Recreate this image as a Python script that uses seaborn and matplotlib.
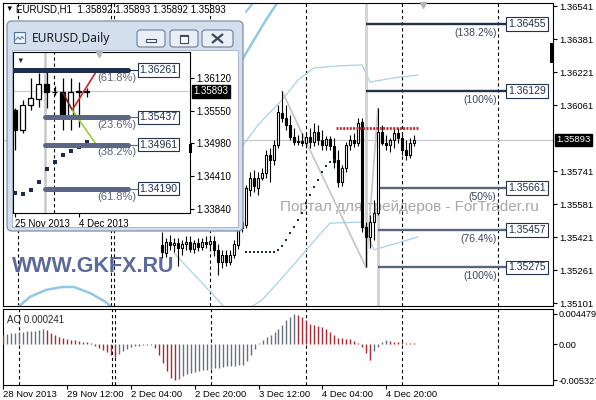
import numpy as np
import matplotlib
matplotlib.use("Agg")
import matplotlib.pyplot as plt
from matplotlib.patches import FancyBboxPatch, Rectangle
import seaborn as sns

# ---------------- data : main H1 chart ----------------
header_text = "EURUSD,H1  1.35892 1.35893 1.35892 1.35893"
last_price = 1.35893

h1_idx = list(range(40, 104))
h1_open = [1.35384, 1.35345, 1.35398, 1.35384, 1.35394, 1.35369, 1.35389, 1.35398, 1.35364, 1.35394,
           1.35374, 1.35398, 1.35389, 1.35403, 1.35360, 1.35301, 1.35335, 1.35301, 1.35335, 1.35384,
           1.35466, 1.35481, 1.35651, 1.35709, 1.35660, 1.35709, 1.35733, 1.35820, 1.35796, 1.35869,
           1.36024, 1.36000, 1.35966, 1.35908, 1.35883, 1.35888, 1.35878, 1.35908, 1.35883, 1.35932,
           1.35893, 1.35869, 1.35898, 1.35864, 1.35796, 1.35689, 1.35757, 1.35869, 1.35893, 1.35878,
           1.35980, 1.35471, 1.35423, 1.35495, 1.35539, 1.35932, 1.35878, 1.35869, 1.35893, 1.35927,
           1.35903, 1.35845, 1.35820, 1.35878]
h1_high = [1.35447, 1.35418, 1.35432, 1.35418, 1.35418, 1.35408, 1.35427, 1.35427, 1.35408, 1.35418,
           1.35418, 1.35427, 1.35418, 1.35427, 1.35389, 1.35360, 1.35360, 1.35360, 1.35408, 1.35481,
           1.35529, 1.35675, 1.35738, 1.35748, 1.35738, 1.35757, 1.35845, 1.35854, 1.35893, 1.36063,
           1.36129, 1.36063, 1.36014, 1.35951, 1.35917, 1.35927, 1.35932, 1.35951, 1.35975, 1.35966,
           1.35942, 1.35912, 1.35912, 1.35903, 1.35845, 1.35772, 1.35883, 1.35917, 1.35927, 1.36000,
           1.36000, 1.35495, 1.35529, 1.35602, 1.36047, 1.35966, 1.35917, 1.35903, 1.35951, 1.35951,
           1.35932, 1.35893, 1.35903, 1.35917]
h1_low = [1.35321, 1.35326, 1.35360, 1.35350, 1.35282, 1.35335, 1.35360, 1.35350, 1.35345, 1.35355,
          1.35360, 1.35369, 1.35360, 1.35331, 1.35238, 1.35272, 1.35282, 1.35287, 1.35321, 1.35364,
          1.35447, 1.35466, 1.35621, 1.35641, 1.35626, 1.35699, 1.35709, 1.35689, 1.35772, 1.35854,
          1.35980, 1.35942, 1.35893, 1.35869, 1.35869, 1.35864, 1.35854, 1.35854, 1.35864, 1.35869,
          1.35845, 1.35845, 1.35845, 1.35757, 1.35665, 1.35670, 1.35738, 1.35845, 1.35859, 1.35864,
          1.35447, 1.35275, 1.35369, 1.35408, 1.35529, 1.35869, 1.35845, 1.35835, 1.35854, 1.35878,
          1.35820, 1.35796, 1.35806, 1.35864]
h1_close = [1.35350, 1.35398, 1.35384, 1.35394, 1.35369, 1.35389, 1.35398, 1.35364, 1.35394, 1.35374,
            1.35398, 1.35389, 1.35403, 1.35360, 1.35301, 1.35335, 1.35301, 1.35335, 1.35389, 1.35466,
            1.35495, 1.35660, 1.35709, 1.35670, 1.35709, 1.35733, 1.35820, 1.35796, 1.35869, 1.36029,
            1.36000, 1.35966, 1.35908, 1.35883, 1.35888, 1.35878, 1.35908, 1.35883, 1.35932, 1.35893,
            1.35869, 1.35898, 1.35864, 1.35786, 1.35689, 1.35757, 1.35869, 1.35893, 1.35878, 1.35975,
            1.35471, 1.35423, 1.35495, 1.35539, 1.35932, 1.35878, 1.35869, 1.35893, 1.35927, 1.35903,
            1.35845, 1.35820, 1.35878, 1.35893]

ao_values = [0.00144, 0.00154, 0.00164, 0.00173, 0.00183, 0.00188, 0.00192, 0.00197, 0.00202, 0.00212,
             0.00221, 0.00216, 0.00173, 0.00135, 0.00111, 0.00096, 0.00082, 0.00067, 0.00058, 0.00048,
             0.00038, 0.00029, 0.00014, -0.00019, -0.00048, -0.00082, -0.00120, -0.00154, -0.00183, -0.00144,
             -0.00096, -0.00067, -0.00043, -0.00029, -0.00019, -0.00014, -0.00010, -0.00007, -0.00058, -0.00154,
             -0.00274, -0.00394, -0.00491, -0.005327, -0.00515, -0.00467, -0.00443, -0.00418, -0.00409, -0.00394,
             -0.00385, -0.00375, -0.00370, -0.00356, -0.00346, -0.00337, -0.00327, -0.00322, -0.00313, -0.00308,
             -0.00298, -0.00250, -0.00164, -0.00067, 0.00014, 0.00067, 0.00111, 0.00144, 0.00183, 0.00231,
             0.00289, 0.00351, 0.00409, 0.004479, 0.00438, 0.00399, 0.00351, 0.00303, 0.00279, 0.00265,
             0.00255, 0.00231, 0.00183, 0.00135, 0.00096, 0.00087, 0.00077, 0.00072, 0.00048, 0.00014,
             -0.00034, -0.00130, -0.00226, -0.00106, -0.00034, 0.00029, 0.00063, 0.00048, 0.00038, 0.00034,
             0.00029, 0.00026, 0.00025, 0.000241]
ao_title = "AO 0.000241"

time_tick_idx = [0, 16, 32, 48, 64, 80, 96]
time_tick_labels = ["28 Nov 2013", "29 Nov 12:00", "2 Dec 04:00", "2 Dec 20:00",
                    "3 Dec 12:00", "4 Dec 04:00", "4 Dec 20:00"]
day_sep_idx = [4, 27.2, 28, 52, 76, 100, 124]

price_ticks = [1.36541, 1.36381, 1.36221, 1.36061, 1.35741, 1.35581, 1.35421, 1.35261, 1.35101]
ao_ticks = [0.004479, 0.0, -0.005327]
ao_tick_labels = ["0.004479", "0.00", "-0.005327"]

bb_up_idx = [57, 64, 70, 74, 78, 84, 90, 92, 98, 104]
bb_up_val = [1.35781, 1.35966, 1.36087, 1.36184, 1.36242, 1.36252, 1.36257, 1.36174, 1.36194, 1.36208]
bb_low_idx = [43, 54, 58, 65, 70, 75, 80, 82, 90, 93, 104]
bb_low_val = [1.35345, 1.35117, 1.35030, 1.35117, 1.35224, 1.35335, 1.35447, 1.35490, 1.35495, 1.35360, 1.35423]
env_low_idx = [4, 7, 11, 15, 18, 22, 26, 28]
env_low_val = [1.35083, 1.35132, 1.35166, 1.35180, 1.35180, 1.35151, 1.35107, 1.35070]
env_up_idx = [60, 66, 71]
env_up_val = [1.36281, 1.36475, 1.36621]
env_up2_idx = [61, 65]
env_up2_val = [1.36514, 1.36611]

sar_idx = list(range(61, 84))
sar_val = [1.35350, 1.35350, 1.35350, 1.35350, 1.35350, 1.35350, 1.35350, 1.35350,
           1.35360, 1.35379, 1.35408, 1.35442, 1.35471, 1.35505, 1.35539, 1.35587,
           1.35626, 1.35665, 1.35699, 1.35738, 1.35767, 1.35786, 1.35796]

red_level = 1.35951
red_span = [83.5, 104]

fib_hi_levels = [1.36455, 1.36129]
fib_hi_labels = ["(138.2%)", "(100%)"]
fib_hi_start = 91
fib_lo_levels = [1.35661, 1.35457, 1.35275]
fib_lo_labels = ["(50%)", "(76.4%)", "(100%)"]
fib_lo_start = 94
fib_anchor_idx = [70, 91, 94]
fib_anchor_val = [1.36129, 1.35275, 1.36047]

# ---------------- data : inset Daily chart ----------------
d_title = "EURUSD,Daily"
d_idx = list(range(10))
d_open = [1.35563, 1.35215, 1.35650, 1.35755, 1.36016, 1.35876, 1.35876, 1.35441, 1.35876, 1.35885]
d_high = [1.35598, 1.35737, 1.36120, 1.36207, 1.36224, 1.35981, 1.36120, 1.36120, 1.36050, 1.35946]
d_low = [1.34867, 1.35163, 1.35563, 1.35615, 1.35598, 1.35824, 1.35215, 1.35215, 1.35267, 1.35789]
d_close = [1.35215, 1.35650, 1.35772, 1.36016, 1.35876, 1.35885, 1.35441, 1.35876, 1.35894, 1.35893]
d_sar = [1.34118, 1.34101, 1.34171, 1.34309, 1.34536, 1.34658, 1.34780, 1.34849, 1.34919, 1.35006]
d_price_ticks = [1.36120, 1.35550, 1.34980, 1.34410, 1.33840]
d_time_idx = [0, 8]
d_time_labels = ["25 Nov 2013", "4 Dec 2013"]
d_levels = [1.36261, 1.35437, 1.34961, 1.34190]
d_level_labels = ["(61.8%)", "(23.6%)", "(38.2%)", "(61.8%)"]
d_level_start = [-0.2, 3.8, 3.8, 3.8]
d_level_end = 14.2
d_maroon_k = [6.06, 7.19]
d_maroon_v = [1.35859, 1.35563]
d_red_k = [7.19, 10.31]
d_red_v = [1.35563, 1.36259]
d_green_k = [7.19, 10.06]
d_green_v = [1.35563, 1.34989]
d_gray_sep = 3.8
d_dash_sep = 4.95

# ---------------- style ----------------
sns.set_theme(style="white")
plt.rcParams['font.family'] = ['Liberation Sans', 'DejaVu Sans']
plt.rcParams['axes.edgecolor'] = 'black'
plt.rcParams['xtick.color'] = 'black'
plt.rcParams['ytick.color'] = 'black'

NAVY = '#22314f'
SLATE = '#58657e'
LBLUE = '#93c8e2'

fig = plt.figure(figsize=(5.96, 4.0), dpi=100)
fig.patch.set_facecolor('white')
ax = fig.add_axes([3/596, 94/400, 550/596, 303/400], zorder=1)
ax_ao = fig.add_axes([3/596, 15/400, 550/596, 76/400], zorder=1)
ov = fig.add_axes([0, 0, 1, 1], zorder=2)
axd = fig.add_axes([13/596, 187/400, 177/596, 161/400], zorder=3)


def draw_candles(a, idx, o, h, l, c, width, lw):
    idx = np.asarray(idx, float)
    o, h, l, c = (np.asarray(v, float) for v in (o, h, l, c))
    a.vlines(idx, l, h, color='black', lw=lw, zorder=4)
    bottoms = np.minimum(o, c)
    heights = np.maximum(np.abs(c - o), 1e-5)
    face = np.where(c >= o, 'white', 'black')
    a.bar(idx, heights, bottom=bottoms, width=width, color=face,
          edgecolor='black', linewidth=lw, zorder=5)


def style_axes(a):
    for s in a.spines.values():
        s.set_color('black')
        s.set_linewidth(0.8)
    a.set_facecolor('white')
    a.grid(False)


# ---------------- main chart ----------------
style_axes(ax)
xlim = (0.25, 137.75)
ax.set_xlim(*xlim)
ax.set_ylim(1.35088, 1.36557)

ax.text(0.5036, 0.328, "Портал для трейдеров - ForTrader.ru", transform=ax.transAxes,
        fontsize=11, color='#a8a8a8', va='center', ha='left', zorder=0.5, clip_on=False)

for s in day_sep_idx:
    ax.axvline(s, color='black', lw=0.8, ls=(0, (3, 2.5)), zorder=1)
ax.axhline(last_price, color='#c4c4c4', lw=0.8, zorder=1)

sns.lineplot(x=env_low_idx, y=env_low_val, ax=ax, color=LBLUE, lw=1.8, estimator=None, sort=False, zorder=2)
sns.lineplot(x=env_up_idx, y=env_up_val, ax=ax, color=LBLUE, lw=1.8, estimator=None, sort=False, zorder=2)
sns.lineplot(x=env_up2_idx, y=env_up2_val, ax=ax, color=LBLUE, lw=1.5, estimator=None, sort=False, zorder=2)
sns.lineplot(x=bb_up_idx, y=bb_up_val, ax=ax, color='#a9d2e6', lw=0.9, estimator=None, sort=False, zorder=2)
sns.lineplot(x=bb_low_idx, y=bb_low_val, ax=ax, color='#a9d2e6', lw=0.9, estimator=None, sort=False, zorder=2)

# fibonacci anchors
sns.lineplot(x=fib_anchor_idx, y=fib_anchor_val, ax=ax, color='#c8c8c8', lw=1.3, estimator=None, sort=False, zorder=2)
ylo, yhi = ax.get_ylim()
ax.vlines(fib_hi_start, fib_anchor_val[1], yhi, color='#d0d0d0', lw=2.0, zorder=2)
ax.vlines(fib_lo_start, ylo, fib_lo_levels[0], color='#d0d0d0', lw=2.0, zorder=2)

box_idx = 126
for levels, labels, start, col in ((fib_hi_levels, fib_hi_labels, fib_hi_start, NAVY),
                                   (fib_lo_levels, fib_lo_labels, fib_lo_start, SLATE)):
    ax.hlines(levels, start, box_idx, colors=col, lw=1.7, zorder=3)
    for lv, lb in zip(levels, labels):
        ax.annotate(lb, xy=(day_sep_idx[-1], lv), xytext=(-1, -6.3), textcoords='offset points',
                    ha='right', va='center', fontsize=7.5, color='#3c465c', zorder=6)
        ax.annotate(f"{lv:.5f}", xy=(box_idx, lv), xytext=(1.6, 0), textcoords='offset points',
                    ha='left', va='center', fontsize=7.5, color='#22314f', zorder=7,
                    bbox=dict(boxstyle='square,pad=0.18', fc='white', ec='#22314f', lw=0.8))

draw_candles(ax, h1_idx, h1_open, h1_high, h1_low, h1_close, width=0.62, lw=0.8)

sns.scatterplot(x=sar_idx, y=sar_val, ax=ax, color='#1d2b4c', s=4, marker='s', linewidth=0, zorder=6)
ax.hlines(red_level, red_span[0], red_span[1], colors='#d41c1c', lw=2.0,
          linestyles=(0, (0.7, 0.5)), zorder=6)

ax.set_xticks([])
ax.yaxis.tick_right()
ax.set_yticks(price_ticks)
ax.set_yticklabels([f"{v:.5f}" for v in price_ticks])
ax.tick_params(axis='y', right=True, length=3, width=0.8, pad=1.2, labelsize=6.8)
ax.set_xlabel('')
ax.set_ylabel('')
ax.annotate(f"{last_price:.5f}", xy=(1, last_price), xycoords=ax.get_yaxis_transform(),
            xytext=(2.4, 0), textcoords='offset points', ha='left', va='center', fontsize=6.8,
            color='white', annotation_clip=False,
            bbox=dict(boxstyle='square,pad=0.18', fc='black', ec='black'))
ax.add_patch(Rectangle((0.994, 0.803), 0.006, 0.066, transform=ax.transAxes,
                       fc='black', ec='none', zorder=8, clip_on=False))
ax.plot([0.764], [0.993], marker='v', color='#b5b5b5', ms=5, transform=ax.transAxes,
        clip_on=False, zorder=8)

# ---------------- AO panel ----------------
style_axes(ax_ao)
ax_ao.set_xlim(*xlim)
ax_ao.set_ylim(-0.00600, 0.0052)
ao = np.asarray(ao_values)
ao_prev = np.r_[np.inf, ao[:-1]]
ao_cols = np.where(ao > ao_prev, '#66707f', '#b0242c')
ax_ao.vlines(np.arange(len(ao)), 0, ao, colors=ao_cols, lw=1.0, zorder=3)
for s in day_sep_idx:
    ax_ao.axvline(s, color='black', lw=0.8, ls=(0, (3, 2.5)), zorder=2)
ax_ao.text(0.008, 0.86, ao_title, transform=ax_ao.transAxes, fontsize=7, va='center', ha='left')
ax_ao.yaxis.tick_right()
ax_ao.set_yticks(ao_ticks)
ax_ao.set_yticklabels(ao_tick_labels)
ax_ao.set_xticks(time_tick_idx)
ax_ao.set_xticklabels(time_tick_labels, ha='left')
ax_ao.tick_params(axis='y', right=True, length=3, width=0.8, pad=1.0, labelsize=6.6)
ax_ao.tick_params(axis='x', bottom=True, length=3, width=0.8, pad=0.5, labelsize=6.8)

# ---------------- overlay: header, watermark, window chrome ----------------
ov.set_xlim(0, 596)
ov.set_ylim(400, 0)
ov.axis('off')
ov.text(5, 9.5, "▼", fontsize=5.5, va='center', ha='left', color='black')
ov.text(16, 9.5, header_text, fontsize=7, va='center', ha='left', color='black')
ov.text(12, 267, "WWW.GKFX.RU", fontsize=15.5, fontweight='bold', color='#4d5d93',
        alpha=0.92, va='center', ha='left')

ov.add_patch(FancyBboxPatch((7, 21), 236, 210, boxstyle='round,pad=0,rounding_size=5',
                            fc='#d3dfed', ec='#7d91aa', lw=0.9))
ov.add_patch(Rectangle((12, 50), 226, 177, fc='white', ec='#9fb0c4', lw=0.6))
ov.add_patch(Rectangle((14, 32), 11, 11, fc='#eef4fa', ec='#4f74a0', lw=0.8))
ov.plot([15.5, 18, 20, 22, 23.5], [40, 37, 39.5, 36.5, 38.5], color='#4f74a0', lw=0.7)
ov.text(32, 38.5, d_title, fontsize=8.7, family=['Noto Sans', 'DejaVu Sans'],
        va='center', ha='left', color='#1b1b1b')
for bx, bw in ((137, 28), (170, 28), (202, 31)):
    ov.add_patch(FancyBboxPatch((bx, 30), bw, 17, boxstyle='round,pad=0,rounding_size=3',
                                fc='#e9eff6', ec='#6c7e97', lw=0.8))
ov.add_patch(Rectangle((146, 38.5), 10, 3, fc='white', ec='#3b4a5e', lw=0.8))
ov.add_patch(Rectangle((180, 34.5), 8, 8, fc='white', ec='#3b4a5e', lw=0.8))
ov.add_patch(Rectangle((180, 34.5), 8, 2, fc='#3b4a5e', ec='none'))
ov.plot([212, 223], [34, 43], color='#3b4a5e', lw=1.6, solid_capstyle='butt')
ov.plot([212, 223], [43, 34], color='#3b4a5e', lw=1.6, solid_capstyle='butt')

# ---------------- inset daily chart ----------------
style_axes(axd)
axd.set_xlim(-0.2, 21.9)
axd.set_ylim(1.33770, 1.36573)
axd.axhline(last_price, color='#c8c8c8', lw=0.8, zorder=1)
axd.axvline(d_gray_sep, color='#c8c8c8', lw=1.8, zorder=1)
axd.axvline(d_dash_sep, color='black', lw=0.8, ls=(0, (3, 2.5)), zorder=1)
draw_candles(axd, d_idx, d_open, d_high, d_low, d_close, width=0.6, lw=0.9)
sns.scatterplot(x=d_idx, y=d_sar, ax=axd, color='#1d2b4c', s=5, marker='s', linewidth=0, zorder=3)
sns.lineplot(x=d_maroon_k, y=d_maroon_v, ax=axd, color='#7a1a1a', lw=1.2, estimator=None, sort=False, zorder=6)
sns.lineplot(x=d_red_k, y=d_red_v, ax=axd, color='#cc2222', lw=1.2, estimator=None, sort=False, zorder=6)
sns.lineplot(x=d_green_k, y=d_green_v, ax=axd, color='#9acd32', lw=1.2, estimator=None, sort=False, zorder=6)

d_box_k = 15.3
for n, (lv, lb, st) in enumerate(zip(d_levels, d_level_labels, d_level_start)):
    col = '#1f2e4d' if n == 0 else '#5a6886'
    axd.plot([st, d_level_end], [lv, lv], color=col, lw=3.6, solid_capstyle='round', zorder=7)
    axd.plot([d_level_end, d_box_k], [lv, lv], color=col, lw=0.8, zorder=7)
    axd.annotate(lb, xy=(d_box_k, lv), xytext=(-0.5, -5.5), textcoords='offset points',
                 ha='right', va='center', fontsize=8, color='#5a6274', zorder=8)
    axd.annotate(f"{lv:.5f}", xy=(d_box_k, lv), xytext=(1.5, 0), textcoords='offset points',
                 ha='left', va='center', fontsize=7.6, color='#22314f', zorder=9,
                 bbox=dict(boxstyle='square,pad=0.15', fc='white', ec='#22314f', lw=0.8))

axd.yaxis.tick_right()
axd.set_yticks(d_price_ticks)
axd.set_yticklabels([f"{v:.5f}" for v in d_price_ticks])
axd.set_xticks(d_time_idx)
axd.set_xticklabels(d_time_labels, ha='left')
axd.tick_params(axis='y', right=True, length=3, width=0.8, pad=1.5, labelsize=7)
axd.tick_params(axis='x', bottom=True, length=3, width=0.8, pad=1.5, labelsize=7)
axd.set_xlabel('')
axd.set_ylabel('')
axd.annotate(f"{last_price:.5f}", xy=(1, last_price), xycoords=axd.get_yaxis_transform(),
             xytext=(2.6, 0), textcoords='offset points', ha='left', va='center', fontsize=7,
             color='white', annotation_clip=False,
             bbox=dict(boxstyle='square,pad=0.15', fc='black', ec='black'))
axd.text(0.04, 0.94, "▼", transform=axd.transAxes, fontsize=5.5, va='center', ha='center')
axd.plot([0.486], [0.985], marker='v', color='#b5b5b5', ms=5, transform=axd.transAxes,
         clip_on=False, zorder=8)
axd.add_patch(Rectangle((0.994, 0.373), 0.017, 0.056, transform=axd.transAxes,
                        fc='black', ec='none', zorder=8, clip_on=False))

fig.savefig('out.png', dpi=100)
